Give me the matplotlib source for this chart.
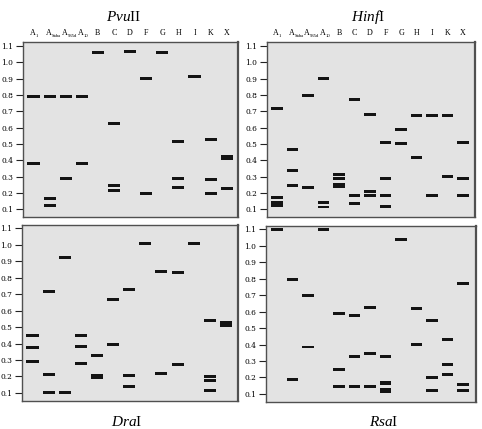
import matplotlib
matplotlib.use("Agg")
import matplotlib.pyplot as plt
from matplotlib.transforms import blended_transform_factory, offset_copy

plt.rcParams["mathtext.fontset"] = "custom"
plt.rcParams["mathtext.it"] = "Liberation Serif:italic"
plt.rcParams["mathtext.rm"] = "Liberation Serif"

lane_main = ["A", "A", "A", "A", "B", "C", "D", "F", "G", "H", "I", "K", "X"]
lane_sub = ["1", "Saba", "935d", "10", "", "", "", "", "", "", "", "", ""]
yticks = [0.1, 0.2, 0.3, 0.4, 0.5, 0.6, 0.7, 0.8, 0.9, 1.0, 1.1]

pvu_bands = [
    [0.79, 0.38],
    [0.79, 0.165, 0.125],
    [0.79, 0.29],
    [0.79, 0.38],
    [1.06],
    [0.625, 0.245, 0.215],
    [1.065],
    [0.90, 0.20],
    [1.06],
    [0.515, 0.29, 0.235],
    [0.915],
    [0.525, 0.285, 0.20],
    [0.425, 0.41, 0.23],
]
hinf_bands = [
    [0.715, 0.175, 0.14, 0.124],
    [0.465, 0.34, 0.245],
    [0.795, 0.235],
    [0.90, 0.145, 0.115],
    [0.315, 0.29, 0.255, 0.24],
    [0.77, 0.185, 0.135],
    [0.68, 0.21, 0.185],
    [0.51, 0.29, 0.185, 0.12],
    [0.59, 0.505],
    [0.675, 0.415],
    [0.675, 0.185],
    [0.675, 0.30],
    [0.51, 0.29, 0.185],
]
dra_bands = [
    [0.45, 0.375, 0.29],
    [0.715, 0.21, 0.10],
    [0.925, 0.10],
    [0.45, 0.38, 0.28],
    [0.325, 0.208, 0.192],
    [0.665, 0.395],
    [0.73, 0.205, 0.14],
    [1.01],
    [0.835, 0.22],
    [0.83, 0.27],
    [1.005],
    [0.54, 0.20, 0.175, 0.115],
    [0.525, 0.51],
]
rsa_bands = [
    [1.10],
    [0.795, 0.19],
    [0.70, 0.385],
    [1.10],
    [0.59, 0.25, 0.145],
    [0.575, 0.33, 0.145],
    [0.625, 0.345, 0.145],
    [0.33, 0.169, 0.162, 0.125, 0.112],
    [1.04],
    [0.62, 0.40],
    [0.545, 0.20, 0.12],
    [0.43, 0.28, 0.22],
    [0.77, 0.16, 0.12],
]

W, H = 482, 429
fig = plt.figure(figsize=(W / 100, H / 100), dpi=100)
fig.patch.set_facecolor("white")


def box(l, r, t, b):
    return [l / W, 1 - b / H, (r - l) / W, (b - t) / H]


panels = [
    ("$\\mathit{Pvu}\\mathrm{II}$", pvu_bands, box(23, 238, 42, 217), (-0.65, 12.7), (0.054, 1.124), "top", 124),
    ("$\\mathit{Hinf}\\mathrm{I}$", hinf_bands, box(267, 475, 42, 217), (-0.65, 12.77), (0.054, 1.124), "top", 368),
    ("$\\mathit{Dra}\\mathrm{I}$", dra_bands, box(22, 238, 225.5, 401), (-0.65, 12.75), (0.051, 1.117), "bottom", 127),
    ("$\\mathit{Rsa}\\mathrm{I}$", rsa_bands, box(266, 476, 226, 402), (-0.71, 12.85), (0.051, 1.12), "bottom", 384),
]

band_h = 0.018
for title, bands, rect, xl, yl, pos, tx in panels:
    ax = fig.add_axes(rect)
    ax.set_facecolor("#e3e3e3")
    xs, ys = [], []
    for i, lane in enumerate(bands):
        for v in lane:
            xs.append(i)
            ys.append(v)
    ax.bar(xs, [band_h] * len(ys), bottom=[y - band_h / 2 for y in ys],
           width=0.75, color="#141414", linewidth=0)
    ax.set_xlim(*xl)
    ax.set_ylim(*yl)
    ax.set_yticks(yticks)
    ax.set_yticklabels([f"{t:.1f}" for t in yticks], fontsize=5.4,
                       family="DejaVu Serif")
    ax.tick_params(axis="y", length=5, width=0.8, pad=2, color="#222222")
    ax.set_xticks([])
    for s in ax.spines.values():
        s.set_color("#505050")
        s.set_linewidth(1.0)
    ax.spines["right"].set_linewidth(1.6)
    if pos == "top":
        tr = blended_transform_factory(ax.transData, ax.transAxes)
        for i, (m, sub) in enumerate(zip(lane_main, lane_sub)):
            if sub:
                ax.text(i + 0.12, 1.0, m, transform=offset_copy(tr, fig=fig, x=0, y=5, units="points"),
                        ha="right", va="baseline", fontsize=5.8, family="Liberation Serif")
                ax.text(i + 0.12, 1.0, sub, transform=offset_copy(tr, fig=fig, x=0, y=3.8, units="points"),
                        ha="left", va="baseline", fontsize=3.4, family="Liberation Serif")
            else:
                ax.text(i, 1.0, m, transform=offset_copy(tr, fig=fig, x=0, y=5, units="points"),
                        ha="center", va="baseline", fontsize=5.8, family="Liberation Serif")
        fig.text(tx / W, 1 - 21 / H, title, ha="center", va="baseline",
                 fontsize=11, family="Liberation Serif", math_fontfamily="custom")
    else:
        fig.text(tx / W, 1 - 426 / H, title, ha="center", va="baseline",
                 fontsize=11, family="Liberation Serif", math_fontfamily="custom")

fig.savefig("out.png", dpi=100)
